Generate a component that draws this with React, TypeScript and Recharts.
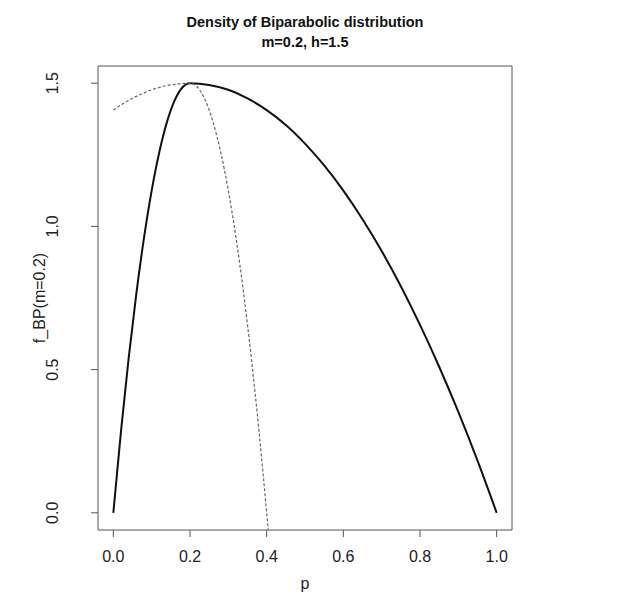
import React from 'react';
import { LineChart, Line, XAxis, YAxis, ReferenceArea } from 'recharts';

// Density f_BP(p), m=0.2, h=1.5 (solid curve)
const solidP = [0, 0.02, 0.04, 0.06, 0.08, 0.1, 0.12, 0.14, 0.16, 0.18, 0.2, 0.25, 0.3, 0.35, 0.4, 0.45, 0.5, 0.55, 0.6, 0.65, 0.7, 0.75, 0.8, 0.85, 0.9, 0.95, 1.0];
const solidF = [0, 0.285, 0.54, 0.765, 0.96, 1.125, 1.26, 1.365, 1.44, 1.485, 1.5, 1.494, 1.477, 1.447, 1.406, 1.354, 1.289, 1.213, 1.125, 1.025, 0.914, 0.791, 0.656, 0.51, 0.352, 0.182, 0];

// Extended parabolas (dashed curve)
const dashedP = [0, 0.02, 0.04, 0.06, 0.08, 0.1, 0.12, 0.14, 0.16, 0.18, 0.2, 0.22, 0.24, 0.26, 0.28, 0.3, 0.32, 0.34, 0.36, 0.38, 0.4, 0.404];
const dashedF = [1.406, 1.424, 1.44, 1.454, 1.466, 1.477, 1.485, 1.492, 1.496, 1.499, 1.5, 1.485, 1.44, 1.365, 1.26, 1.125, 0.96, 0.765, 0.54, 0.285, 0, -0.06];

const xTicks = [0, 0.2, 0.4, 0.6, 0.8, 1.0];
const yTicks = [0, 0.5, 1.0, 1.5];

const titleLines = ['Density of Biparabolic distribution', 'm=0.2, h=1.5'];
const xLabel = 'p';
const yLabel = 'f_BP(m=0.2)';

const solidData = solidP.map((p, i) => ({ p, f: solidF[i] }));
const dashedData = dashedP.map((p, i) => ({ p, f: dashedF[i] }));

const W = 617;
const H = 615;
const BOX = { left: 98, right: 512, top: 66, bottom: 530 };
const FONT = '"Liberation Sans", Arial, sans-serif';
const AXIS = '#555';

const XTick = (props: any) => {
  const { x, payload } = props;
  return (
    <text x={x} y={BOX.bottom + 32} textAnchor="middle" fontSize={16} fontFamily={FONT} fill="#222">
      {Number(payload.value).toFixed(1)}
    </text>
  );
};

const YTick = (props: any) => {
  const { y, payload } = props;
  const bx = BOX.left - 40;
  return (
    <text x={bx} y={y} transform={`rotate(-90 ${bx} ${y})`} textAnchor="middle" fontSize={16} fontFamily={FONT} fill="#222">
      {Number(payload.value).toFixed(1)}
    </text>
  );
};

export default function App() {
  const cx = (BOX.left + BOX.right) / 2;
  const cy = (BOX.top + BOX.bottom) / 2;
  return (
    <div style={{ position: 'absolute', left: 0, top: 0, width: W, height: H, background: '#fff' }}>
      <div style={{ position: 'absolute', left: 0, top: 0 }}>
        <LineChart width={W} height={H} margin={{ top: BOX.top, right: W - BOX.right, bottom: 0, left: 0 }}>
          <XAxis
            dataKey="p"
            type="number"
            domain={[-0.04, 1.04]}
            ticks={xTicks}
            height={H - BOX.bottom}
            axisLine={false}
            tickLine={{ stroke: AXIS }}
            tickSize={7}
            tick={<XTick />}
            allowDataOverflow
          />
          <YAxis
            dataKey="f"
            type="number"
            domain={[-0.06, 1.56]}
            ticks={yTicks}
            width={BOX.left}
            axisLine={false}
            tickLine={{ stroke: AXIS }}
            tickSize={7}
            tick={<YTick />}
            allowDataOverflow
          />
          <ReferenceArea x1={-0.04} x2={1.04} y1={-0.06} y2={1.56} fill="none" stroke={AXIS} strokeWidth={1} ifOverflow="visible" />
          <Line data={solidData} dataKey="f" type="monotone" stroke="#111" strokeWidth={2} dot={false} isAnimationActive={false} />
          <Line data={dashedData} dataKey="f" type="monotone" stroke="#666" strokeWidth={1.2} strokeDasharray="3 2" dot={false} isAnimationActive={false} />
        </LineChart>
      </div>
      <svg width={W} height={H} style={{ position: 'absolute', left: 0, top: 0, pointerEvents: 'none' }}>
        <text x={cx} y={27} textAnchor="middle" fontSize={14.5} fontWeight="bold" fontFamily={FONT} fill="#111">{titleLines[0]}</text>
        <text x={cx} y={47} textAnchor="middle" fontSize={14.5} fontWeight="bold" fontFamily={FONT} fill="#111">{titleLines[1]}</text>
        <text x={cx} y={589} textAnchor="middle" fontSize={16} fontFamily={FONT} fill="#222">{xLabel}</text>
        <text x={45} y={cy} transform={`rotate(-90 45 ${cy})`} textAnchor="middle" fontSize={16} fontFamily={FONT} fill="#222">{yLabel}</text>
      </svg>
    </div>
  );
}
